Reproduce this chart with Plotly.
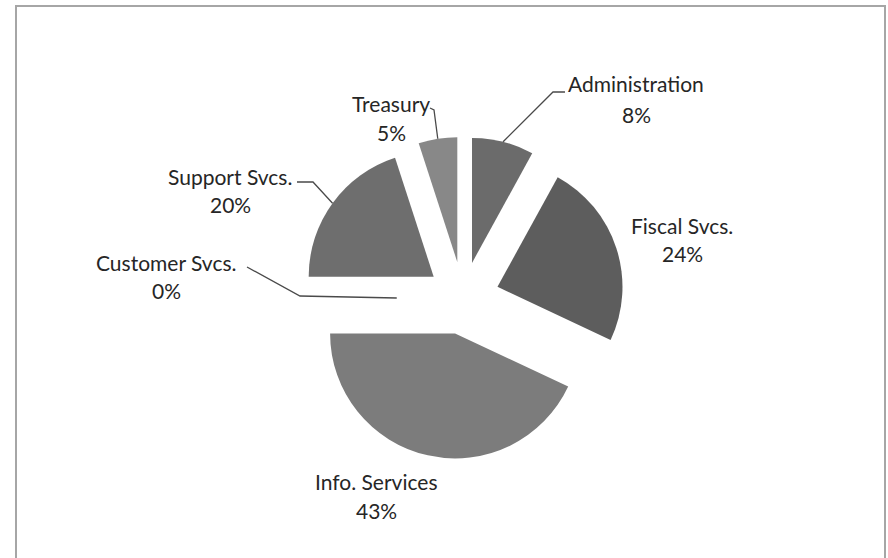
import math
import plotly.graph_objects as go

# Budget share by division, listed clockwise from 12 o'clock
divisions = ["Administration", "Fiscal Svcs.", "Info. Services",
             "Customer Svcs.", "Support Svcs.", "Treasury"]
shares = [8, 24, 43, 0, 20, 5]
slice_colors = ["#6b6b6b", "#5d5d5d", "#7c7c7c", "#7c7c7c", "#6e6e6e", "#888888"]

W, H = 888, 558
PULL = 0.29
CX, CY = 463, 298          # pie centre in pixels
R = 125                     # pie radius in pixels
HALF = R * (1 + PULL)       # half-size of the pie box (plotly shrinks r for pull)

domain_x = [(CX - HALF) / W, (CX + HALF) / W]
domain_y = [(H - CY - HALF) / H, (H - CY + HALF) / H]

fig = go.Figure(go.Pie(
    labels=divisions,
    values=shares,
    sort=False,
    direction="clockwise",
    rotation=0,
    pull=[PULL] * len(shares),
    marker=dict(colors=slice_colors, line=dict(width=0)),
    textinfo="none",
    domain=dict(x=domain_x, y=domain_y),
    showlegend=False,
))

total = sum(shares)


def px(x, y):
    return x / W, 1 - y / H


def slice_anchor(i, radial=1.0):
    """Point on the exploded slice's outer arc at its middle angle."""
    start = sum(shares[:i]) / total * 360
    span = shares[i] / total * 360
    mid = math.radians(start + span / 2)
    dx, dy = math.sin(mid), -math.cos(mid)
    ox, oy = CX + PULL * R * dx, CY + PULL * R * dy
    return ox + radial * R * dx, oy + radial * R * dy


# label placement: (name centre x, name y, pct y), leader elbows, anchor reach
label_layout = {
    "Administration": ((636, 84, 114), [(553, 92), (565, 92)], 1.0),
    "Fiscal Svcs.": ((682, 225, 253), None, 1.0),
    "Info. Services": ((376, 481, 510), None, 1.0),
    "Customer Svcs.": ((166, 262, 290), [(300, 296), (247, 267)], 0.24),
    "Support Svcs.": ((230, 176, 205), [(313, 182), (297, 182)], 1.0),
    "Treasury": ((391, 103, 132), [(434, 110), (430, 108)], 1.0),
}

FONT = dict(family="Lato, Open Sans, sans-serif", size=21, color="#262626")
annotations = []
shapes = []
for i, name in enumerate(divisions):
    (lx, ny, py), elbows, reach = label_layout[name]
    pct = f"{shares[i] / total:.0%}"
    for text, ty in ((name, ny), (pct, py)):
        x, y = px(lx, ty)
        annotations.append(dict(x=x, y=y, xref="paper", yref="paper", text=text,
                                showarrow=False, font=FONT,
                                xanchor="center", yanchor="middle"))
    if elbows:
        pts = [slice_anchor(i, reach)] + elbows
        path = "M " + " L ".join(f"{px(a, b)[0]:.5f},{px(a, b)[1]:.5f}" for a, b in pts)
        shapes.append(dict(type="path", path=path, xref="paper", yref="paper",
                           line=dict(color="#4a4a4a", width=1.3)))

# chart frame
x0, y0 = px(16, 6)
x1, y1 = px(885, 562)
shapes.append(dict(type="rect", x0=x0, y0=y1, x1=x1, y1=y0, xref="paper", yref="paper",
                   line=dict(color="#a6a6a6", width=2), fillcolor="rgba(0,0,0,0)"))

fig.update_layout(
    width=W, height=H,
    margin=dict(l=0, r=0, t=0, b=0),
    paper_bgcolor="white",
    plot_bgcolor="white",
    annotations=annotations,
    shapes=shapes,
)

fig.write_html("out.html")
